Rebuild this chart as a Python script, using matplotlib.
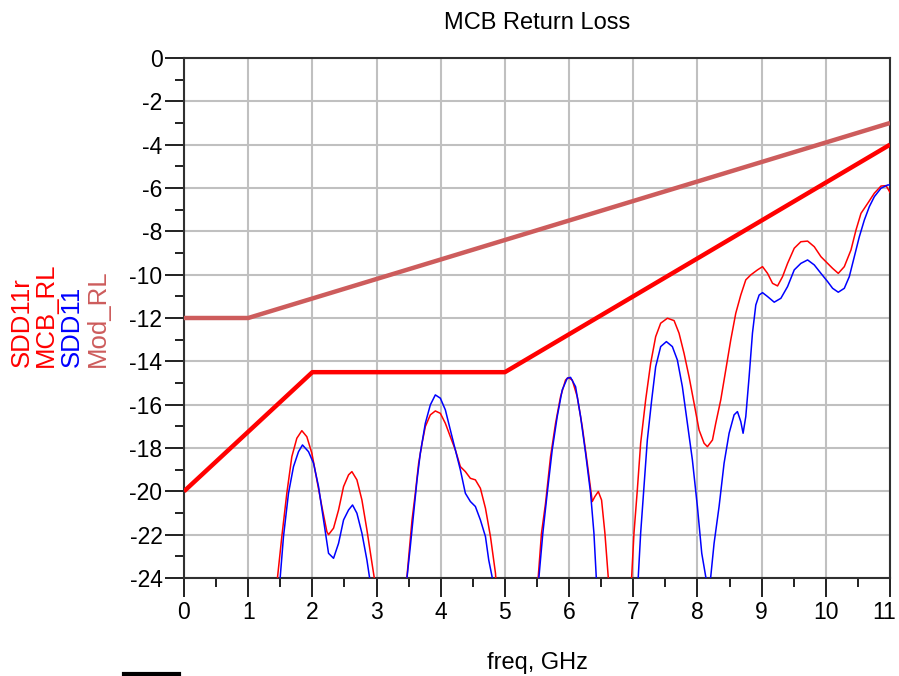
import matplotlib
matplotlib.use("Agg")
import matplotlib.pyplot as plt
from matplotlib.lines import Line2D
from matplotlib.ticker import MultipleLocator, FixedFormatter

plt.rcParams['font.family'] = ['Liberation Sans', 'DejaVu Sans']
plt.rcParams['axes.unicode_minus'] = False

# ---------------- data ----------------
title = "MCB Return Loss"
xlabel = "freq, GHz"
legend_labels = ["SDD11r", "MCB_RL", "SDD11", "Mod_RL"]
x_ticks = [0, 1, 2, 3, 4, 5, 6, 7, 8, 9, 10, 11]

mod_rl_x = [0, 1, 11]
mod_rl_y = [-12, -12, -3]

mcb_rl_x = [0, 2, 5, 11]
mcb_rl_y = [-20, -14.5, -14.5, -4]

# SDD11r (red) - several lobes; values below -24 are clipped by the axes
sdd11r_x = [
    1.42, 1.456, 1.524, 1.602, 1.680, 1.758, 1.836, 1.914, 1.992, 2.070, 2.148, 2.226, 2.252,
    2.330, 2.408, 2.486, 2.564, 2.616, 2.694, 2.772, 2.850, 2.928, 2.965, 3.0,
    3.2,
    3.44, 3.474, 3.511, 3.553, 3.604, 3.656, 3.709, 3.760, 3.838, 3.916, 3.994, 4.072, 4.150,
    4.228, 4.306, 4.384, 4.462, 4.540, 4.618, 4.697, 4.775, 4.853, 4.88,
    5.2,
    5.49, 5.518, 5.570, 5.633, 5.711, 5.789, 5.867, 5.945, 5.987, 6.049, 6.127, 6.205, 6.283,
    6.361, 6.402, 6.455, 6.506, 6.558, 6.611, 6.64,
    6.8,
    6.95, 6.975, 7.011, 7.063, 7.115, 7.193, 7.271, 7.349, 7.427, 7.532, 7.636, 7.713, 7.791,
    7.869, 7.947, 8.025, 8.103, 8.155, 8.234, 8.285, 8.363, 8.441, 8.519, 8.597, 8.675,
    8.753, 8.831, 8.935, 9.014, 9.092, 9.170, 9.248, 9.326, 9.404, 9.508, 9.611, 9.716,
    9.820, 9.924, 10.028, 10.106, 10.194, 10.288, 10.392, 10.470, 10.548, 10.652, 10.756,
    10.860, 10.938, 11.0,
]
sdd11r_y = [
    -25, -24.0, -22.09, -20.09, -18.4, -17.55, -17.2, -17.48, -18.24, -19.47, -20.7, -21.86, -22.0,
    -21.7, -20.86, -19.78, -19.24, -19.09, -19.47, -20.4, -21.78, -23.3, -24.0, -25,
    -30,
    -25, -23.94, -22.7, -21.32, -20.09, -18.7, -17.78, -17.01, -16.47, -16.29, -16.4, -16.86, -17.48,
    -18.09, -18.86, -19.09, -19.4, -19.47, -19.86, -20.78, -22.09, -23.78, -25,
    -30,
    -25, -24.0, -21.93, -20.55, -18.4, -16.86, -15.63, -14.86, -14.75, -14.86, -15.63, -17.01, -18.7,
    -20.47, -20.24, -20.01, -20.4, -21.93, -24.0, -25,
    -30,
    -25, -23.94, -21.93, -19.94, -17.78, -15.78, -14.09, -12.86, -12.24, -12.01, -12.12, -12.7, -13.63,
    -14.71, -15.93, -17.17, -17.78, -17.94, -17.63, -16.86, -15.78, -14.4, -13.01, -11.78, -10.94,
    -10.24, -10.01, -9.78, -9.63, -9.94, -10.4, -10.52, -10.09, -9.48, -8.78, -8.48, -8.45,
    -8.71, -9.17, -9.48, -9.71, -9.94, -9.63, -8.86, -7.94, -7.17, -6.71, -6.24,
    -5.91, -5.89, -6.2,
]

# SDD11 (blue)
sdd11_x = [
    1.47, 1.498, 1.550, 1.628, 1.706, 1.784, 1.846, 1.940, 2.018, 2.096, 2.174, 2.252, 2.330,
    2.408, 2.486, 2.564, 2.626, 2.694, 2.772, 2.850, 2.892, 2.93,
    3.2,
    3.45, 3.474, 3.526, 3.578, 3.631, 3.682, 3.760, 3.838, 3.916, 3.994, 4.072, 4.150, 4.228,
    4.306, 4.384, 4.462, 4.540, 4.618, 4.697, 4.748, 4.800, 4.83,
    5.2,
    5.50, 5.529, 5.591, 5.659, 5.737, 5.815, 5.893, 5.971, 6.023, 6.101, 6.179, 6.257, 6.335,
    6.387, 6.424, 6.45,
    6.8,
    7.05, 7.078, 7.115, 7.167, 7.219, 7.287, 7.349, 7.427, 7.516, 7.609, 7.687, 7.765, 7.843,
    7.921, 7.999, 8.067, 8.129, 8.168, 8.207, 8.259, 8.337, 8.415, 8.493, 8.571, 8.623, 8.675,
    8.711, 8.753, 8.805, 8.857, 8.909, 8.961, 9.014, 9.092, 9.196, 9.300, 9.404, 9.508, 9.611,
    9.716, 9.820, 9.924, 10.028, 10.106, 10.194, 10.288, 10.366, 10.444, 10.522, 10.600,
    10.678, 10.756, 10.860, 10.964, 11.0,
]
sdd11_y = [
    -25, -24.0, -22.09, -20.09, -18.86, -18.17, -17.86, -18.17, -18.7, -19.78, -21.32, -22.86, -23.09,
    -22.4, -21.32, -20.86, -20.63, -21.01, -21.93, -23.17, -24.0, -25,
    -30,
    -25, -24.0, -22.55, -21.01, -19.47, -18.24, -16.86, -16.01, -15.55, -15.7, -16.24, -17.17, -18.09,
    -19.01, -20.09, -20.47, -20.7, -21.32, -22.09, -23.17, -23.94, -25,
    -30,
    -25, -24.0, -21.93, -20.09, -18.09, -16.55, -15.32, -14.78, -14.74, -15.17, -16.55, -18.24, -20.09,
    -21.93, -24.0, -25,
    -30,
    -25, -23.94, -21.93, -19.78, -17.63, -15.78, -14.25, -13.32, -13.09, -13.32, -13.94, -15.17, -16.86,
    -18.55, -20.7, -22.86, -23.94, -24.3, -23.94, -22.4, -20.7, -18.7, -17.32, -16.47, -16.32, -16.78,
    -17.32, -16.55, -14.71, -12.7, -11.4, -10.94, -10.83, -11.01, -11.27, -11.09, -10.55, -9.78, -9.48,
    -9.32, -9.55, -9.94, -10.32, -10.63, -10.81, -10.63, -10.09, -9.17, -8.25, -7.48,
    -6.86, -6.4, -6.01, -5.86, -5.86,
]

# ---------------- figure ----------------
fig = plt.figure(figsize=(8.99, 6.76), dpi=100)
ax = fig.add_axes([184 / 899, 1 - 578 / 676, (890 - 184) / 899, (578 - 58) / 676])

c_red = '#FF0000'
c_blue = '#0000FF'
c_mod = '#CD5C5C'

ax.plot(sdd11r_x, sdd11r_y, color=c_red, lw=1.1, zorder=3)
ax.plot(sdd11_x, sdd11_y, color=c_blue, lw=1.1, zorder=3)
ax.plot(mod_rl_x, mod_rl_y, color=c_mod, lw=3.2, zorder=4, solid_capstyle='butt')
ax.plot(mcb_rl_x, mcb_rl_y, color=c_red, lw=3.2, zorder=4, solid_capstyle='butt')

ax.set_xlim(0, 11)
ax.set_ylim(-24, 0)
ax.set_xticks(x_ticks)
# the last label ("11") is drawn separately so it stays inside the canvas
ax.xaxis.set_major_formatter(FixedFormatter([str(t) for t in x_ticks[:-1]] + ['']))
ax.xaxis.set_minor_locator(MultipleLocator(0.5))
ax.yaxis.set_major_locator(MultipleLocator(2))
ax.yaxis.set_minor_locator(MultipleLocator(1))
ax.grid(True, which='major', color='#C0C0C0', lw=1.5, zorder=1)
ax.set_axisbelow(True)

ax.tick_params(which='major', direction='out', length=13.5, width=1.4, color='#202020',
               labelsize=16.5, pad=2)
ax.tick_params(which='minor', direction='out', length=6.5, width=1.4, color='#202020')
ax.tick_params(axis='x', which='major', pad=3)
ax.tick_params(axis='y', which='major', pad=2)
for side in ['left', 'bottom', 'top', 'right']:
    ax.spines[side].set_color('#303030')
    ax.spines[side].set_linewidth(1.5)

ax.annotate(str(x_ticks[-1]), xy=(x_ticks[-1], 0), xycoords=('data', 'axes fraction'),
            xytext=(-4, -16.5), textcoords='offset points', ha='center', va='top',
            fontsize=16.5)

ax.set_title(title, fontsize=17, pad=21)
ax.set_xlabel(xlabel, fontsize=17, labelpad=20)

# rotated legend labels on the left
leg_colors = [c_red, c_red, c_blue, c_mod]
leg_x = [22, 46, 72, 98]
for lab, col, px in zip(legend_labels, leg_colors, leg_x):
    fig.text(px / 899, 1 - 367 / 676, lab, color=col, rotation=90, fontsize=18.5,
             ha='center', va='bottom')

# short black bar at the bottom-left
fig.add_artist(Line2D([124 / 899, 179 / 899], [1 - 673.5 / 676, 1 - 673.5 / 676],
                      color='black', lw=3, transform=fig.transFigure))

fig.savefig('out.png', dpi=100)
